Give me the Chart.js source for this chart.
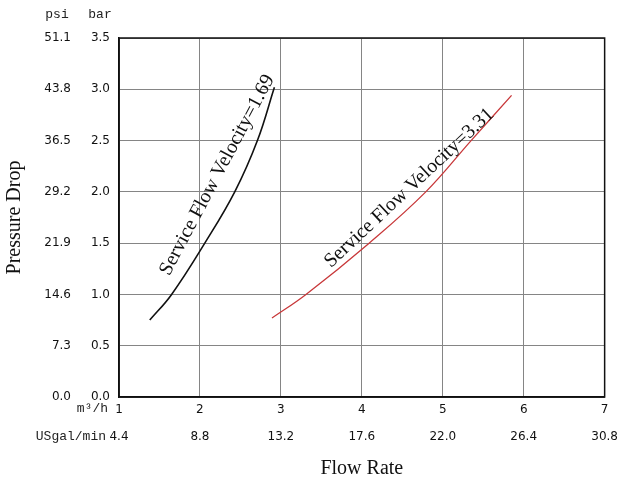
<!DOCTYPE html>
<html>
<head>
<meta charset="utf-8">
<script src="https://cdn.jsdelivr.net/npm/chart.js@4"></script>
<style>
    html, body { margin: 0; padding: 0; background: #fff; }
    #wrap { width: 625px; height: 480px; }
</style>
</head>
<body>
<div id="wrap"><canvas id="chart" width="625" height="480"></canvas></div>
<script>
// tick labels
const flowTicks = ['1', '2', '3', '4', '5', '6', '7'];
const gpmTicks = ['4.4', '8.8', '13.2', '17.6', '22.0', '26.4', '30.8'];
const barTicks = ['0.0', '0.5', '1.0', '1.5', '2.0', '2.5', '3.0', '3.5'];
const psiTicks = ['0.0', '7.3', '14.6', '21.9', '29.2', '36.5', '43.8', '51.1'];

// curves (m3/h, bar)
const flowLow = [1.38, 1.65, 2.06, 2.43, 2.71, 2.92];
const dropLow = [0.75, 1.0, 1.5, 2.0, 2.5, 3.02];
const flowHigh = [2.89, 3.31, 4.09, 4.79, 5.35, 5.85];
const dropHigh = [0.77, 1.0, 1.5, 2.0, 2.5, 2.94];

const labelLow = 'Service Flow Velocity=1.69';
const labelHigh = 'Service Flow Velocity=3.31';

const toPoints = (xs, ys) => xs.map((x, i) => ({ x: x, y: ys[i] }));

const gridColor = '#858585';
const tickFont = { family: 'DejaVu Sans', size: 12 };

// black frame round the plot
const frame = {
    id: 'frame',
    beforeDatasetsDraw(chart) {
        const { ctx, chartArea: a } = chart;
        ctx.save();
        ctx.strokeStyle = '#111';
        ctx.lineWidth = 1.5;
        ctx.strokeRect(a.left, a.top, a.right - a.left, a.bottom - a.top);
        ctx.restore();
    }
};

// extra texts: unit headers and curve labels
const extraText = {
    id: 'extraText',
    afterDraw(chart) {
        const ctx = chart.ctx;
        const xs = chart.scales.x;
        const ys = chart.scales.y;
        ctx.save();
        ctx.fillStyle = '#222';
        ctx.font = '13px "Liberation Mono"';
        ctx.textAlign = 'center';
        ctx.textBaseline = 'middle';
        ctx.fillText('psi', 57, 15);
        ctx.fillText('bar', 100, 15);
        ctx.textAlign = 'right';
        ctx.fillText('m\u00b3/h', 108, 409);
        ctx.fillText('USgal/min', 106, 437);

        ctx.font = '20px "Liberation Serif"';
        ctx.fillStyle = '#111';
        ctx.textAlign = 'center';
        ctx.textBaseline = 'alphabetic';
        const drawRot = (text, x, y, deg) => {
            ctx.save();
            ctx.translate(xs.getPixelForValue(x), ys.getPixelForValue(y));
            ctx.rotate(deg * Math.PI / 180);
            ctx.fillText(text, 0, 0);
            ctx.restore();
        };
        drawRot(labelLow, 2.27, 2.14, -62);
        drawRot(labelHigh, 4.63, 2.0, -43);
        ctx.restore();
    }
};

new Chart(document.getElementById('chart'), {
    type: 'scatter',
    data: {
        datasets: [
            {
                data: toPoints(flowLow, dropLow),
                showLine: true,
                borderColor: '#111',
                borderWidth: 1.6,
                pointRadius: 0,
                tension: 0.4
            },
            {
                data: toPoints(flowHigh, dropHigh),
                showLine: true,
                borderColor: '#c8383a',
                borderWidth: 1.3,
                pointRadius: 0,
                tension: 0.4
            }
        ]
    },
    options: {
        responsive: false,
        animation: false,
        layout: { padding: { top: 38, right: 16, left: 0, bottom: 0 } },
        plugins: {
            legend: { display: false },
            tooltip: { enabled: false }
        },
        scales: {
            x: {
                type: 'linear', position: 'bottom', weight: 0,
                min: 1, max: 7,
                grid: { color: gridColor, drawTicks: false },
                border: { color: '#111', width: 1.5 },
                ticks: {
                    stepSize: 1, padding: 6, color: '#111', font: tickFont,
                    callback: (v) => flowTicks[Math.round(v - 1)]
                },
                afterFit: (s) => { s.height = 26; }
            },
            x2: {
                type: 'linear', position: 'bottom', weight: 1,
                min: 1, max: 7,
                grid: { display: false, drawTicks: false },
                border: { display: false },
                ticks: {
                    stepSize: 1, padding: 7, color: '#111', font: tickFont,
                    callback: (v) => gpmTicks[Math.round(v - 1)]
                },
                title: {
                    display: true, text: 'Flow Rate', color: '#111',
                    font: { family: 'Liberation Serif', size: 20, lineHeight: 1.1 },
                    padding: { top: 0, bottom: 0 }
                },
                afterFit: (s) => { s.height = 57; }
            },
            y: {
                type: 'linear', position: 'left', weight: 0,
                min: 0, max: 3.5,
                grid: { color: gridColor, drawTicks: false },
                border: { color: '#111', width: 1.5 },
                ticks: {
                    stepSize: 0.5, padding: 9, color: '#111', font: tickFont,
                    callback: (v) => barTicks[Math.round(v * 2)]
                },
                afterFit: (s) => { s.width = 47; }
            },
            y2: {
                type: 'linear', position: 'left', weight: 1,
                min: 0, max: 3.5,
                grid: { display: false, drawTicks: false },
                border: { display: false },
                ticks: {
                    stepSize: 0.5, padding: 1, color: '#111', font: tickFont,
                    callback: (v) => psiTicks[Math.round(v * 2)]
                },
                title: {
                    display: true, text: 'Pressure Drop', color: '#111',
                    font: { family: 'Liberation Serif', size: 20 },
                    padding: { top: 3, bottom: 0 }
                },
                afterFit: (s) => { s.width = 72; }
            }
        }
    },
    plugins: [frame, extraText]
});
</script>
</body>
</html>
